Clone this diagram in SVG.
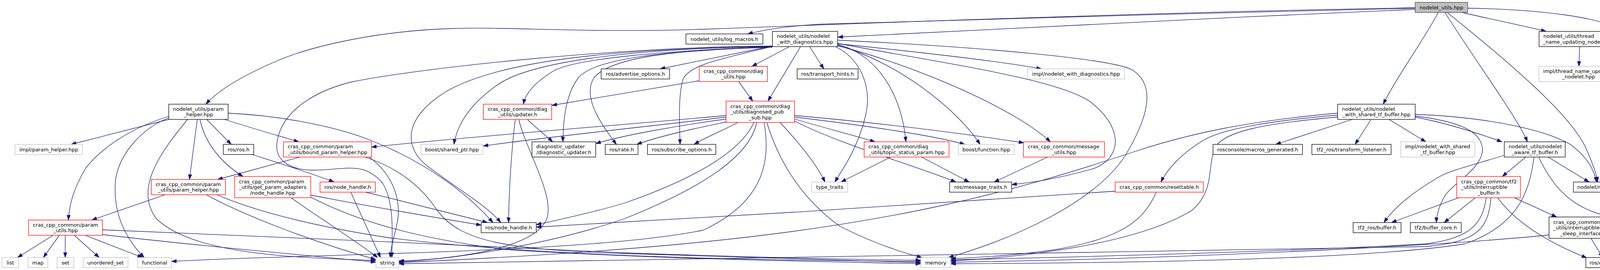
<svg xmlns="http://www.w3.org/2000/svg" width="4459" height="692" viewBox="0 0 4459 692">
<style>
rect.k{fill:#fff;stroke:#000;stroke-width:1.3}
rect.g{fill:#fff;stroke:#bfbfbf;stroke-width:1.3}
rect.r{fill:#fff;stroke:#ff0000;stroke-width:1.3}
rect.root{fill:#bfbfbf;stroke:#404040;stroke-width:1.3}
text{font-family:"DejaVu Sans",sans-serif;font-size:13px;fill:#000}
text.c{text-anchor:middle}
text.l{text-anchor:start}
#edges path{fill:none;stroke:#191970;stroke-width:1.3;marker-end:url(#a)}
</style>
<defs>
<marker id="a" markerUnits="userSpaceOnUse" markerWidth="14" markerHeight="10" viewBox="0 0 14 10" refX="13" refY="4.5" orient="auto">
<path d="M0,0 L13,4.5 L0,9 z" fill="#191970" stroke="#191970" stroke-width="1"/>
</marker>
</defs>
<rect x="0" y="0" width="4459" height="692" fill="#fff"/>
<g id="edges">
<path d="M3623,21 C3200,32 2300,52 2100,62 C2000,68 1950,78 1914,87"/>
<path d="M3623,20 C3000,30 2200,60 1800,75 C1500,85 1300,68 1161,73 C980,78 800,115 700,160 C620,195 560,230 527,267"/>
<path d="M3623,24 C3100,45 2450,82 2145,95"/>
<path d="M3682,32 C3640,110 3580,190 3541,267"/>
<path d="M3699,32 C3780,160 3890,310 3910,363.5"/>
<path d="M3705,32 C3850,150 4020,290 4060,380 C4078,420 4087,445 4090,466.5"/>
<path d="M3743,32 C3820,50 3900,66 3958,80.5"/>
<path d="M3757,21 C3950,24 4100,45 4160,80 C4230,130 4280,250 4292,363.5"/>
<path d="M2144,112 C2300,128 2550,155 2666,176.5"/>
<path d="M2144,114 C2250,140 2310,250 2319,363.5"/>
<path d="M2144,116 C2300,160 2450,280 2509,370"/>
<path d="M2144,117 C2350,170 2600,280 2689,363.5"/>
<path d="M2144,111 C2400,160 2700,200 2790,260 C2870,320 2880,400 2800,432 C2700,460 2640,468 2590,473"/>
<path d="M2144,103 C2500,120 2850,150 2900,180 C2960,220 2940,300 2880,400 C2800,520 2600,610 2428,660"/>
<path d="M2140,120 C2200,150 2235,220 2215,300 C2195,380 2160,430 2137,466.5"/>
<path d="M2073,120 L2109,176.5"/>
<path d="M2049,120 L1966,259"/>
<path d="M2020,120 L1925,170"/>
<path d="M1977,118 L1690,176.5"/>
<path d="M1977,119 C1850,150 1770,165 1750,200 C1735,240 1740,320 1741,370"/>
<path d="M1977,120 C1700,130 1560,150 1520,200 C1490,250 1540,320 1578,370"/>
<path d="M1977,120 C1700,130 1480,150 1420,180 C1370,210 1345,240 1340,267"/>
<path d="M1977,121 C1700,130 1520,150 1480,200 C1450,240 1442,300 1441,363.5"/>
<path d="M1977,119 C1600,125 1350,160 1270,220 C1200,270 1170,320 1162,370"/>
<path d="M1977,119 C1600,125 1300,150 1150,230 C1030,300 1030,380 1100,430 C1180,490 1250,530 1282,570.5"/>
<path d="M1977,118 C1600,120 1100,170 900,210 C780,240 720,300 710,360 C700,410 740,435 800,436 C880,437 930,410 980,470 C1010,520 1004,600 1003,660"/>
<path d="M1891,209 L1927,259"/>
<path d="M1790,207 C1650,230 1500,255 1413,270"/>
<path d="M1350,306 C1375,330 1400,350 1415,363.5"/>
<path d="M1319,306 C1310,380 1303,480 1302,570.5"/>
<path d="M1328,306 C1345,380 1420,500 1400,560 C1370,640 1150,665 1021,669"/>
<path d="M1859,296 C1600,320 1200,350 951,377"/>
<path d="M1859,300 C1700,320 1450,345 1237,374"/>
<path d="M1859,305 C1750,320 1600,345 1525,368"/>
<path d="M1862,312 C1800,325 1700,345 1630,370"/>
<path d="M1889,314 C1860,330 1810,350 1777,370"/>
<path d="M1930,314 C1900,380 1800,450 1600,520 C1500,550 1420,565 1373,576"/>
<path d="M1937,314 C1920,400 1800,480 1600,560 C1400,630 1150,665 1021,671"/>
<path d="M1956,314 C1975,420 1950,520 1800,590 C1500,650 800,650 439,670"/>
<path d="M1963,314 C1990,400 2040,500 2150,580 C2250,630 2320,650 2360,660"/>
<path d="M1997,314 C2040,360 2090,420 2112,466.5"/>
<path d="M2034,310 C2150,370 2330,420 2447,466.5"/>
<path d="M2034,305 C2100,325 2180,345 2240,363.5"/>
<path d="M2034,300 C2200,320 2380,345 2470,370"/>
<path d="M2034,296 C2250,315 2450,340 2621,366"/>
<path d="M432,298 C330,330 260,380 220,430 C190,480 178,520 175,564"/>
<path d="M432,302 C360,330 300,400 295,470 C290,560 330,620 369,660"/>
<path d="M432,306 L182,370"/>
<path d="M480,306 C420,380 340,480 400,560 C500,660 800,660 962,668"/>
<path d="M505,306 L485,460"/>
<path d="M512,306 C525,370 570,420 622,452.2"/>
<path d="M529,306 L592,370"/>
<path d="M574,306 C650,330 720,350 765,363.5"/>
<path d="M584,290 C700,295 850,320 950,360 C1100,420 1200,500 1262,570.5"/>
<path d="M645,396 C720,420 800,445 855,466.5"/>
<path d="M768,402.5 L557,460"/>
<path d="M934,402.5 C1020,430 1080,480 1120,540 C1180,620 1300,640 1600,650 C1900,660 2200,668 2357,673"/>
<path d="M945,402.5 C1010,450 1030,520 1015,580 C1005,620 1000,640 999,660"/>
<path d="M423,499 L235,564"/>
<path d="M555,499 C650,540 800,580 1000,610 C1400,660 2000,668 2357,670"/>
<path d="M528,499 C620,550 800,620 962,665"/>
<path d="M795,500 C950,530 1100,555 1232,577"/>
<path d="M795,505 C900,560 1050,610 1300,640 C1700,665 2100,670 2357,676"/>
<path d="M745,506.8 C820,560 900,610 967,660"/>
<path d="M898,492.5 L974,660"/>
<path d="M936,492.5 C1050,520 1170,550 1248,570.5"/>
<path d="M136,603 L45,660"/>
<path d="M152,603 L111,660"/>
<path d="M167,603 L167,660"/>
<path d="M190,603 L254,660"/>
<path d="M218,603 L365,660"/>
<path d="M262,601 C500,630 800,655 962,672"/>
<path d="M262,589 C600,600 1200,630 1600,648 C2000,662 2250,666 2357,667"/>
<path d="M3462,306 L3266,370"/>
<path d="M3510,306 L3469,370"/>
<path d="M3556,306 L3650,363.5"/>
<path d="M3424,290 C3200,310 3050,340 2900,390 C2600,490 2300,570 1800,620 C1500,650 1200,665 1021,673"/>
<path d="M3424,295 C3250,310 3130,330 3080,360 C3030,390 2990,430 2972,466.5"/>
<path d="M3424,300 C3250,315 3130,335 3110,380 C3090,430 3110,490 3050,540 C2900,630 2600,660 2434,669"/>
<path d="M3623,293 C3800,300 3950,330 4020,370 C4060,400 4080,430 4087,466.5"/>
<path d="M3623,300 C3700,315 3780,340 3845,363.5"/>
<path d="M3623,297 C3720,310 3790,330 3795,380 C3798,430 3720,470 3700,500 C3685,525 3678,550 3677,570.5"/>
<path d="M3851,398 C3780,420 3720,435 3690,450 C3620,490 3570,530 3543,570.5"/>
<path d="M3906,402.5 L3846,452.2"/>
<path d="M3927,402.5 C3915,500 3880,580 3750,625 C3500,665 2900,674 2434,676"/>
<path d="M3939,402.5 C3980,490 4030,530 4100,550 C4170,570 4165,620 4130,660"/>
<path d="M3963,402.5 L4068,466.5"/>
<path d="M3736,506 L3562,570.5"/>
<path d="M3777,506.8 L3697,570.5"/>
<path d="M3805,506.8 C3795,570 3770,610 3650,625 C3300,645 2700,660 2434,666"/>
<path d="M3817,506.8 C3810,580 3790,620 3650,632 C3000,645 2400,652 2000,660 C1600,668 1200,674 1021,676"/>
<path d="M3834,506.8 C3880,570 3960,620 4062,661"/>
<path d="M3875,506 L3985,556.2"/>
<path d="M4073,610.8 L4103,660"/>
<path d="M3966,602 C3700,630 3000,664 2434,672"/>
<path d="M4255,402.5 L4126,466.5"/>
<path d="M4274,402.5 C4240,460 4180,500 4107,556.2"/>
<path d="M4303,402.5 L4323,466.5"/>
<path d="M4372,400 C4440,440 4460,520 4400,565 C4320,620 4230,645 4170,666"/>
<path d="M4044,119.5 L4042,170"/>
<path d="M4097,119.5 C4160,160 4180,240 4160,330 C4145,400 4120,440 4107,466.5"/>
<path d="M2682,402.5 L2545,466.5"/>
<path d="M2280,402.5 L2153,466.5"/>
<path d="M2359,402.5 L2481,466.5"/>
<path d="M2855,490 C2500,515 1800,560 1373,582"/>
<path d="M2960,492.5 C2930,560 2880,610 2700,640 C2600,655 2500,660 2434,663"/>
</g>
<g id="n_root"><rect class="root" x="3623" y="6" width="134.4" height="26"/><text class="c" x="3690.2" y="23.5">nodelet_utils.hpp</text></g>
<g id="n_logm"><rect class="k" x="1756" y="87" width="197" height="26"/><text class="c" x="1854.5" y="104.5">nodelet_utils/log_macros.h</text></g>
<g id="n_wdiag"><rect class="k" x="1977.4" y="80.5" width="167" height="39"/><text class="l" x="1988.4" y="97.25">nodelet_utils/nodelet</text><text class="c" x="2060.9" y="111.75">_with_diagnostics.hpp</text></g>
<g id="n_thread"><rect class="k" x="3940" y="80.5" width="212" height="39"/><text class="l" x="3951" y="97.25">nodelet_utils/thread</text><text class="c" x="4046" y="111.75">_name_updating_nodelet.hpp</text></g>
<g id="n_adv"><rect class="k" x="1539" y="176.5" width="175" height="26"/><text class="c" x="1626.5" y="194">ros/advertise_options.h</text></g>
<g id="n_diagu"><rect class="r" x="1790" y="170" width="174.5" height="39"/><text class="l" x="1801" y="186.75">cras_cpp_common/diag</text><text class="c" x="1877.25" y="201.25">_utils.hpp</text></g>
<g id="n_transp"><rect class="k" x="2040.6" y="176.5" width="156" height="26"/><text class="c" x="2118.6" y="194">ros/transport_hints.h</text></g>
<g id="n_implwd"><rect class="g" x="2630.4" y="176.5" width="248.2" height="26"/><text class="c" x="2754.5" y="194">impl/nodelet_with_diagnostics.hpp</text></g>
<g id="n_implthr"><rect class="g" x="3939.6" y="170" width="203.3" height="39"/><text class="l" x="3950.6" y="186.75">impl/thread_name_updating</text><text class="c" x="4041.25" y="201.25">_nodelet.hpp</text></g>
<g id="n_upd"><rect class="r" x="1237.4" y="267" width="175" height="39"/><text class="l" x="1248.4" y="283.75">cras_cpp_common/diag</text><text class="c" x="1324.9" y="298.25">_utils/updater.h</text></g>
<g id="n_ph"><rect class="k" x="432" y="267" width="152" height="39"/><text class="l" x="443" y="283.75">nodelet_utils/param</text><text class="c" x="508" y="298.25">_helper.hpp</text></g>
<g id="n_dps"><rect class="r" x="1858.8" y="259.2" width="175" height="54.6"/><text class="l" x="1869.8" y="276.5">cras_cpp_common/diag</text><text class="l" x="1869.8" y="291">_utils/diagnosed_pub</text><text class="c" x="1946.3" y="305.5">_sub.hpp</text></g>
<g id="n_stf"><rect class="k" x="3424.4" y="267" width="198.5" height="39"/><text class="l" x="3435.4" y="283.75">nodelet_utils/nodelet</text><text class="c" x="3523.65" y="298.25">_with_shared_tf_buffer.hpp</text></g>
<g id="n_implph"><rect class="g" x="38.3" y="370" width="173" height="26"/><text class="c" x="124.8" y="387.5">impl/param_helper.hpp</text></g>
<g id="n_rosh"><rect class="k" x="571.6" y="370" width="78" height="26"/><text class="c" x="610.6" y="387.5">ros/ros.h</text></g>
<g id="n_bph"><rect class="r" x="725.6" y="363.5" width="225.8" height="39"/><text class="l" x="736.6" y="380.25">cras_cpp_common/param</text><text class="c" x="838.5" y="394.75">_utils/bound_param_helper.hpp</text></g>
<g id="n_shp"><rect class="g" x="1077.7" y="370" width="158.8" height="26"/><text class="c" x="1157.1" y="387.5">boost/shared_ptr.hpp</text></g>
<g id="n_dupd"><rect class="k" x="1361.8" y="363.5" width="163.2" height="39"/><text class="l" x="1372.8" y="380.25">diagnostic_updater</text><text class="c" x="1443.4" y="394.75">/diagnostic_updater.h</text></g>
<g id="n_rate"><rect class="k" x="1549.4" y="370" width="84" height="26"/><text class="c" x="1591.4" y="387.5">ros/rate.h</text></g>
<g id="n_sub"><rect class="k" x="1657.5" y="370" width="175" height="26"/><text class="c" x="1745" y="387.5">ros/subscribe_options.h</text></g>
<g id="n_tsp"><rect class="r" x="2212.3" y="363.5" width="217.2" height="39"/><text class="l" x="2223.3" y="380.25">cras_cpp_common/diag</text><text class="c" x="2320.9" y="394.75">_utils/topic_status_param.hpp</text></g>
<g id="n_func"><rect class="g" x="2453.4" y="370" width="143" height="26"/><text class="c" x="2524.9" y="387.5">boost/function.hpp</text></g>
<g id="n_msgu"><rect class="r" x="2620" y="363.5" width="207.4" height="39"/><text class="l" x="2631" y="380.25">cras_cpp_common/message</text><text class="c" x="2723.7" y="394.75">_utils.hpp</text></g>
<g id="n_rcon"><rect class="k" x="3105.4" y="370" width="229" height="26"/><text class="c" x="3219.9" y="387.5">rosconsole/macros_generated.h</text></g>
<g id="n_tfl"><rect class="k" x="3358.4" y="370" width="202.8" height="26"/><text class="c" x="3459.8" y="387.5">tf2_ros/transform_listener.h</text></g>
<g id="n_implstf"><rect class="g" x="3586" y="363.5" width="189.6" height="39"/><text class="l" x="3597" y="380.25">impl/nodelet_with_shared</text><text class="c" x="3680.8" y="394.75">_tf_buffer.hpp</text></g>
<g id="n_atf"><rect class="k" x="3851" y="363.5" width="156" height="39"/><text class="l" x="3862" y="380.25">nodelet_utils/nodelet</text><text class="c" x="3929" y="394.75">_aware_tf_buffer.h</text></g>
<g id="n_stn"><rect class="k" x="4216" y="363.5" width="158.4" height="39"/><text class="l" x="4227" y="380.25">nodelet_utils/stateful</text><text class="c" x="4295.2" y="394.75">_nodelet.hpp</text></g>
<g id="n_cph"><rect class="r" x="387.4" y="460" width="190" height="39"/><text class="l" x="398.4" y="476.75">cras_cpp_common/param</text><text class="c" x="482.4" y="491.25">_utils/param_helper.hpp</text></g>
<g id="n_gpa"><rect class="r" x="600.8" y="452.2" width="194.7" height="54.6"/><text class="l" x="611.8" y="469.5">cras_cpp_common/param</text><text class="l" x="611.8" y="484">_utils/get_param_adapters</text><text class="c" x="698.15" y="498.5">/node_handle.hpp</text></g>
<g id="n_rnh"><rect class="r" x="819.4" y="466.5" width="141.6" height="26"/><text class="c" x="890.2" y="484">ros/node_handle.h</text></g>
<g id="n_tt"><rect class="g" x="2078" y="466.5" width="92" height="26"/><text class="c" x="2124" y="484">type_traits</text></g>
<g id="n_mt"><rect class="k" x="2431" y="466.5" width="159" height="26"/><text class="c" x="2510.5" y="484">ros/message_traits.h</text></g>
<g id="n_res"><rect class="r" x="2854.7" y="466.5" width="225.8" height="26"/><text class="c" x="2967.6" y="484">cras_cpp_common/resettable.h</text></g>
<g id="n_ib"><rect class="r" x="3729.2" y="452.2" width="163" height="54.6"/><text class="l" x="3740.2" y="469.5">cras_cpp_common/tf2</text><text class="l" x="3740.2" y="484">_utils/interruptible</text><text class="c" x="3810.7" y="498.5">_buffer.h</text></g>
<g id="n_nod"><rect class="k" x="4028" y="466.5" width="134.5" height="26"/><text class="c" x="4095.25" y="484">nodelet/nodelet.h</text></g>
<g id="n_implstn"><rect class="g" x="4236.2" y="466.5" width="186.5" height="26"/><text class="c" x="4329.45" y="484">impl/stateful_nodelet.hpp</text></g>
<g id="n_pu"><rect class="r" x="73.2" y="564" width="189.4" height="39"/><text class="l" x="84.2" y="580.75">cras_cpp_common/param</text><text class="c" x="167.9" y="595.25">_utils.hpp</text></g>
<g id="n_nh"><rect class="k" x="1231.7" y="570.5" width="141" height="26"/><text class="c" x="1302.2" y="588">ros/node_handle.h</text></g>
<g id="n_tfb"><rect class="k" x="3464" y="570.5" width="122.6" height="26"/><text class="c" x="3525.3" y="588">tf2_ros/buffer.h</text></g>
<g id="n_bc"><rect class="k" x="3610.5" y="570.5" width="130.2" height="26"/><text class="c" x="3675.6" y="588">tf2/buffer_core.h</text></g>
<g id="n_sleep"><rect class="k" x="3965.5" y="556.2" width="174.5" height="54.6"/><text class="l" x="3976.5" y="573.5">cras_cpp_common/time</text><text class="l" x="3976.5" y="588">_utils/interruptible</text><text class="c" x="4052.75" y="602.5">_sleep_interface.h</text></g>
<g id="n_list"><rect class="g" x="5.3" y="660" width="42.5" height="26"/><text class="c" x="26.55" y="677.5">list</text></g>
<g id="n_map"><rect class="g" x="71.7" y="660" width="50.7" height="26"/><text class="c" x="97.05" y="677.5">map</text></g>
<g id="n_set"><rect class="g" x="145.9" y="660" width="43" height="26"/><text class="c" x="167.4" y="677.5">set</text></g>
<g id="n_uset"><rect class="g" x="212.8" y="660" width="114.8" height="26"/><text class="c" x="270.2" y="677.5">unordered_set</text></g>
<g id="n_functional"><rect class="g" x="352.5" y="660" width="86.6" height="26"/><text class="c" x="395.8" y="677.5">functional</text></g>
<g id="n_string"><rect class="g" x="962.4" y="660" width="58.4" height="26"/><text class="c" x="991.6" y="677.5">string</text></g>
<g id="n_memory"><rect class="g" x="2357.3" y="660" width="76.5" height="26"/><text class="c" x="2395.55" y="677.5">memory</text></g>
<g id="n_duration"><rect class="k" x="4059.7" y="660" width="110" height="26"/><text class="c" x="4114.7" y="677.5">ros/duration.h</text></g>
</svg>
